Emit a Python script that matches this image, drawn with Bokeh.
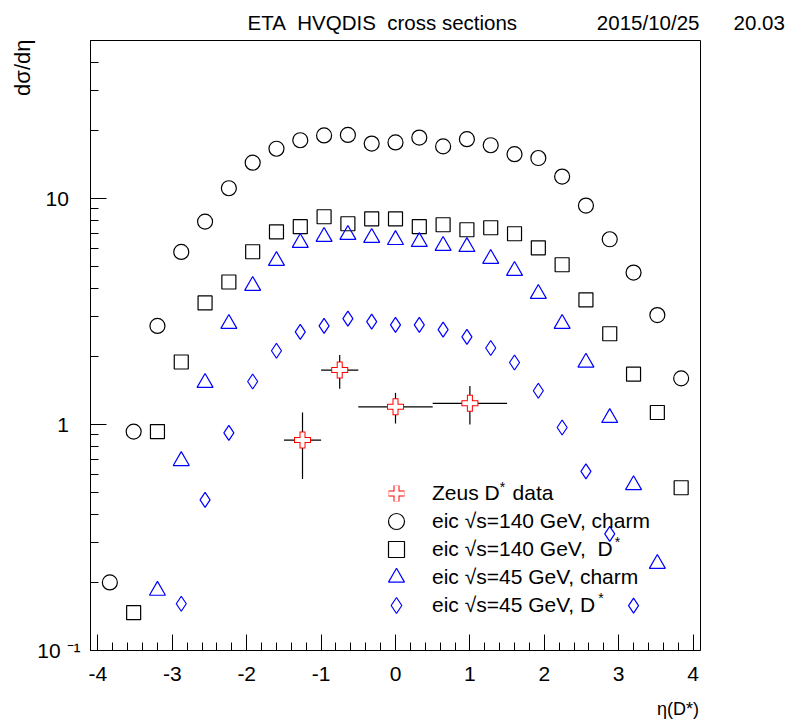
import numpy as np
from bokeh.plotting import figure
from bokeh.models import (FixedTicker, Label, Legend, LegendItem, Range1d, Title,
                          CustomJSTickFormatter)
from bokeh.embed import file_html
from bokeh.resources import INLINE

# ---------------- data ----------------
eta_c140 = [-3.84, -3.52, -3.2, -2.88, -2.56, -2.24, -1.92, -1.6, -1.28, -0.96, -0.64, -0.32,
            0.0, 0.32, 0.64, 0.96, 1.28, 1.6, 1.92, 2.24, 2.56, 2.88, 3.2, 3.52, 3.84]
charm140 = [0.20, 0.93, 2.73, 5.8, 7.9, 11.1, 14.4, 16.6, 18.1, 19.0, 19.1, 17.5,
            17.7, 18.6, 17.0, 18.3, 17.2, 15.7, 15.1, 12.5, 9.3, 6.6, 4.7, 3.05, 1.6]

eta_d140 = [-3.52, -3.2, -2.88, -2.56, -2.24, -1.92, -1.6, -1.28, -0.96, -0.64, -0.32,
            0.0, 0.32, 0.64, 0.96, 1.28, 1.6, 1.92, 2.24, 2.56, 2.88, 3.2, 3.52, 3.84]
dstar140 = [0.147, 0.93, 1.89, 3.45, 4.27, 5.81, 7.12, 7.5, 8.3, 7.73, 8.13,
            8.13, 7.5, 7.65, 7.27, 7.42, 6.98, 6.05, 5.09, 3.56, 2.52, 1.67, 1.13, 0.525]

eta_c45 = [-3.2, -2.88, -2.56, -2.24, -1.92, -1.6, -1.28, -0.96, -0.64, -0.32,
           0.0, 0.32, 0.64, 0.96, 1.28, 1.6, 1.92, 2.24, 2.56, 2.88, 3.2, 3.52]
charm45 = [0.184, 0.69, 1.53, 2.79, 4.11, 5.3, 6.37, 6.77, 6.91, 6.70,
           6.56, 6.43, 6.18, 6.11, 5.41, 4.79, 3.79, 2.79, 1.88, 1.07, 0.54, 0.242]

eta_d45 = [-2.88, -2.56, -2.24, -1.92, -1.6, -1.28, -0.96, -0.64, -0.32,
           0.0, 0.32, 0.64, 0.96, 1.28, 1.6, 1.92, 2.24, 2.56, 2.88, 3.2]
dstar45 = [0.161, 0.464, 0.918, 1.55, 2.12, 2.57, 2.73, 2.94, 2.85,
           2.76, 2.76, 2.63, 2.44, 2.18, 1.88, 1.41, 0.97, 0.62, 0.328, 0.158]

zeus_eta = [-1.25, -0.75, 0.0, 1.0]
zeus_eta_err = [0.25, 0.25, 0.5, 0.5]
zeus_val = [0.853, 1.74, 1.197, 1.24]
zeus_hi = [1.13, 2.03, 1.38, 1.48]
zeus_lo = [0.574, 1.44, 1.01, 1.0]

x_major = [-4, -3, -2, -1, 0, 1, 2, 3, 4]
y_major = [0.1, 1, 10]

legend_labels = ["Zeus D\u2004 data",
                 "eic \u221as=140 GeV, charm",
                 "eic \u221as=140 GeV,\u00a0 D",
                 "eic \u221as=45 GeV, charm",
                 "eic \u221as=45 GeV, D"]

NB = "\u00a0"
title_text = "ETA" + NB * 2 + "HVQDIS" + NB * 2 + "cross sections"
date_text = "2015/10/25" + NB * 6 + "20.03"
x_title = "\u03b7(D*)"
y_title = "d\u03c3/d\u03b7"

# ---------------- figure ----------------
FONT = "Liberation Sans"
W, H = 788, 726
FL, FT, FR, FB = 90, 40, 700, 650   # frame edges in canvas pixels

p = figure(width=W, height=H, output_backend="svg", toolbar_location=None,
           x_range=Range1d(-4.1, 4.1), y_range=Range1d(0.1, 50), y_axis_type="log",
           min_border_left=FL, min_border_right=W - FR, min_border_top=FT,
           min_border_bottom=H - FB, title=None)
p.xgrid.visible = False
p.ygrid.visible = False
p.outline_line_color = "black"
p.outline_line_width = 1
p.background_fill_color = "white"
p.border_fill_color = "white"

minor_x = [round(-4.0 + 0.2 * k, 2) for k in range(41)]
p.xaxis.ticker = FixedTicker(ticks=x_major, minor_ticks=minor_x)
p.xaxis.formatter = CustomJSTickFormatter(code="return tick.toFixed(0)")
minor_y = [m * d for d in (0.1, 1, 10) for m in range(2, 10)]
minor_y = [v for v in minor_y if v <= 50]
p.yaxis.ticker = FixedTicker(ticks=y_major, minor_ticks=minor_y)
p.yaxis.formatter = CustomJSTickFormatter(code="""
const nb = '\\u00a0';
if (tick < 0.5) { return '10' + nb + '\\u207b\\u00b9'; }
return tick.toFixed(0) + nb + nb;
""")

for ax in (p.xaxis, p.yaxis):
    ax.major_tick_in = 16
    ax.major_tick_out = 0
    ax.minor_tick_in = 8
    ax.minor_tick_out = 0
    ax.axis_line_color = "black"
    ax.major_tick_line_color = "black"
    ax.minor_tick_line_color = "black"
    ax.major_label_text_font = FONT
    ax.major_label_text_font_size = "21px"
    ax.major_label_text_color = "black"
p.xaxis.major_label_standoff = 16
p.yaxis.major_label_standoff = 10

# x-axis title, pushed to the right end of the axis (centred text padded on the left)
p.xaxis.axis_label = NB * 113 + x_title
p.xaxis.axis_label_text_font = FONT
p.xaxis.axis_label_text_font_size = "18px"
p.xaxis.axis_label_text_font_style = "normal"
p.xaxis.axis_label_text_color = "black"
p.xaxis.axis_label_standoff = 15

# ---------------- data marks ----------------
r_c140 = p.scatter(eta_c140, charm140, marker="circle", size=15, fill_color=None,
                   line_color="black", line_width=1.2)
r_d140 = p.scatter(eta_d140, dstar140, marker="square", size=14, fill_color=None,
                   line_color="black", line_width=1.2)
r_c45 = p.scatter(eta_c45, charm45, marker="triangle", size=16, fill_color=None,
                  line_color="blue", line_width=1.2)
r_d45 = p.scatter(eta_d45, dstar45, marker="diamond", size=15, fill_color=None,
                  line_color="blue", line_width=1.2)

zx0 = [x - e for x, e in zip(zeus_eta, zeus_eta_err)]
zx1 = [x + e for x, e in zip(zeus_eta, zeus_eta_err)]
p.segment(x0=zx0, y0=zeus_val, x1=zx1, y1=zeus_val, line_color="black", line_width=1.2)
p.segment(x0=zeus_eta, y0=zeus_lo, x1=zeus_eta, y1=zeus_hi, line_color="black", line_width=1.2)
r_z1 = p.scatter(zeus_eta, zeus_val, marker="cross", size=17, line_color="red", line_width=6)
r_z2 = p.scatter(zeus_eta, zeus_val, marker="cross", size=15, line_color="white", line_width=4)

# ---------------- legend (one box per row, rows 28 px apart) ----------------
row_renderers = [[r_z1, r_z2], [r_c140], [r_d140], [r_c45], [r_d45]]
row_centres = [493, 521, 549, 577, 605]      # canvas y of each legend row
for lab, rends, yc in zip(legend_labels, row_renderers, row_centres):
    lg = Legend(items=[LegendItem(label=lab, renderers=rends)],
                location=(396 - 20 - FL, FB - (yc + 20)),
                glyph_width=40, glyph_height=40, label_height=20, spacing=0,
                padding=0, margin=0, label_standoff=16, border_line_alpha=0,
                background_fill_alpha=0, label_text_font=FONT,
                label_text_font_size="21px", label_text_color="black")
    p.add_layout(lg)


def frame_label(text, cx, cy, size, align="left", baseline="middle"):
    p.add_layout(Label(x=cx - FL, y=FB - cy, x_units="screen", y_units="screen", text=text,
                       text_font=FONT, text_font_size=size, text_color="black",
                       text_align=align, text_baseline=baseline))


# superscript stars of D*
frame_label("*", 502, 486, "14px", align="center", baseline="alphabetic")
frame_label("*", 617, 541, "14px", align="center", baseline="alphabetic")
frame_label("*", 600.5, 597, "14px", align="center", baseline="alphabetic")

# ---------------- titles around the frame ----------------
p.add_layout(Title(text=title_text + NB * 14 + date_text, align="left", offset=247 - FL,
                   text_font=FONT, text_font_size="20.5px", text_font_style="normal",
                   text_color="black", standoff=14), "above")
p.add_layout(Title(text=y_title, align="right", offset=-1,
                   text_font=FONT, text_font_size="22px", text_font_style="normal",
                   text_color="black", standoff=0), "left")

open("out.html", "w").write(file_html(p, INLINE))
